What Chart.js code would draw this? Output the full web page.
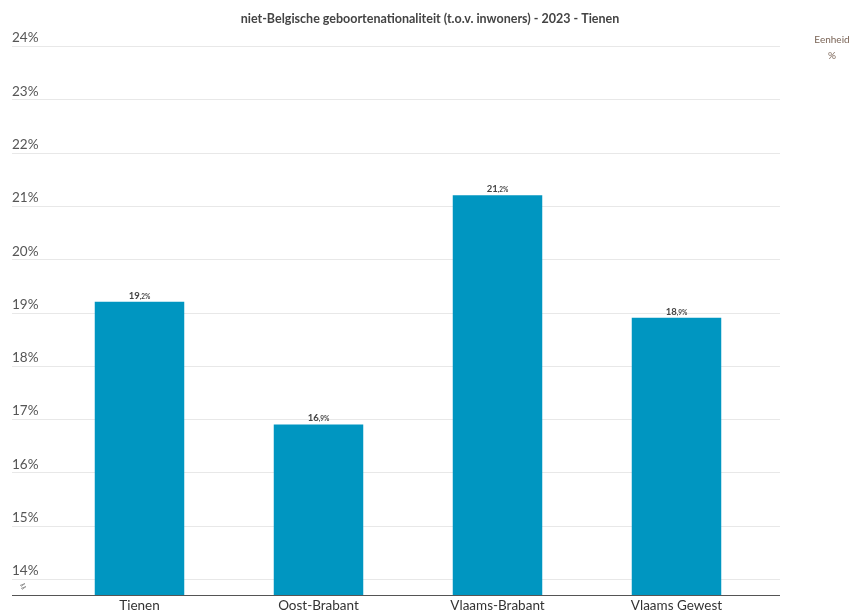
<!DOCTYPE html>
<html>
<head>
<meta charset="utf-8">
<script src="https://cdn.jsdelivr.net/npm/chart.js@4"></script>
<style>
  html, body { margin: 0; padding: 0; background: #fff; }
  #wrap { width: 850px; height: 612px; }
</style>
</head>
<body>
<div id="wrap"><canvas id="graphCanvas" width="850" height="612"></canvas></div>
<script>
    const categories = ['Tienen', 'Oost-Brabant', 'Vlaams-Brabant', 'Vlaams Gewest'];
    const values = [19.2, 16.9, 21.2, 18.9];
    const yTicks = [14, 15, 16, 17, 18, 19, 20, 21, 22, 23, 24];
    const titleText = 'niet-Belgische geboortenationaliteit (t.o.v. inwoners) - 2023 - Tienen';
    const unitLabel = ['Eenheid', '%'];

    const FONT = 'Lato, "Open Sans", sans-serif';
    const barColor = '#0096c1';

    // gridlines, axis line, break mark, title, unit note
    const extras = {
        id: 'extras',
        beforeDatasetsDraw(chart) {
            const c = chart.ctx;
            const y = chart.scales.y;
            c.save();
            c.strokeStyle = '#e8e8e8';
            c.lineWidth = 1;
            yTicks.forEach(function(v) {
                const py = Math.round(y.getPixelForValue(v)) + 0.5;
                c.beginPath();
                c.moveTo(12, py);
                c.lineTo(780, py);
                c.stroke();
            });
            c.restore();
        },
        afterDraw(chart) {
            const c = chart.ctx;
            const area = chart.chartArea;
            c.save();
            // axis line
            c.strokeStyle = '#555';
            c.lineWidth = 1;
            const by = Math.round(area.bottom) + 0.5;
            c.beginPath();
            c.moveTo(12, by);
            c.lineTo(780, by);
            c.stroke();
            // axis break mark
            c.strokeStyle = '#999';
            c.beginPath();
            c.moveTo(20, by - 10); c.lineTo(25, by - 12); c.lineTo(21, by - 9);
            c.moveTo(21, by - 7); c.lineTo(26, by - 9); c.lineTo(22, by - 6);
            c.stroke();
            // title
            c.fillStyle = '#444';
            c.font = 'bold 12.5px ' + FONT;
            c.textAlign = 'center';
            c.textBaseline = 'middle';
            c.fillText(titleText, 430, 19);
            // unit note
            c.fillStyle = '#7a6456';
            c.font = '10px ' + FONT;
            c.fillText(unitLabel[0], 832, 40);
            c.fillText(unitLabel[1], 832, 56);
            // value labels
            const meta = chart.getDatasetMeta(0);
            meta.data.forEach(function(bar, i) {
                const parts = values[i].toFixed(1).split('.');
                const big = parts[0];
                const small = ',' + parts[1] + '%';
                c.font = 'bold 9.5px ' + FONT;
                const w1 = c.measureText(big).width;
                c.font = 'bold 6.5px ' + FONT;
                const w2 = c.measureText(small).width;
                const x0 = bar.x - (w1 + w2) / 2;
                c.textAlign = 'left';
                c.textBaseline = 'alphabetic';
                c.fillStyle = '#444';
                c.font = 'bold 9.5px ' + FONT;
                c.fillText(big, x0, bar.y - 3);
                c.font = 'bold 6.5px ' + FONT;
                c.fillText(small, x0 + w1, bar.y - 3);
            });
            c.restore();
        }
    };

    new Chart(document.getElementById('graphCanvas'), {
        type: 'bar',
        data: {
            labels: categories,
            datasets: [{
                label: 'niet-Belgische geboortenationaliteit',
                data: values,
                backgroundColor: barColor,
                borderWidth: 0,
                categoryPercentage: 0.5,
                barPercentage: 1
            }]
        },
        options: {
            responsive: false,
            animation: false,
            layout: {
                padding: { left: 12, right: 84, top: 46, bottom: 0 }
            },
            plugins: {
                legend: { display: false },
                title: { display: false },
                tooltip: { enabled: false }
            },
            scales: {
                x: {
                    grid: { display: false, drawTicks: false },
                    border: { display: false },
                    afterFit: function(scale) {
                        scale.height = 17;
                    },
                    ticks: {
                        color: '#333',
                        padding: 3,
                        font: { family: FONT, size: 13.5 }
                    }
                },
                y: {
                    min: 13.7,
                    max: 24,
                    grid: { display: false },
                    border: { display: false },
                    afterBuildTicks: function(scale) {
                        scale.ticks = yTicks.map(function(v) { return { value: v }; });
                    },
                    afterFit: function(scale) {
                        scale.width = 38;
                    },
                    ticks: {
                        crossAlign: 'far',
                        labelOffset: -8,
                        color: '#555',
                        font: { family: FONT, size: 13.5 },
                        callback: function(v) { return v + '%'; }
                    }
                }
            }
        },
        plugins: [extras]
    });
</script>
</body>
</html>
